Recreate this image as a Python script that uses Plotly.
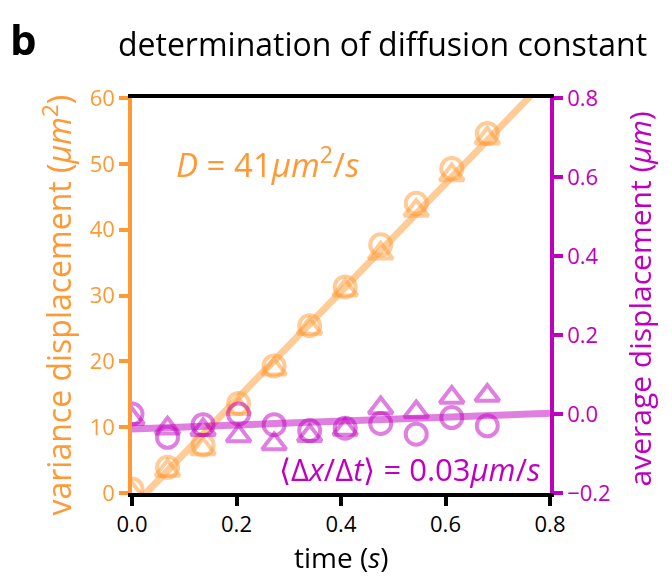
import plotly.graph_objects as go

ORANGE = "#FF9933"
PURPLE = "#C000C0"

time_s = [0.0, 0.068, 0.136, 0.204, 0.272, 0.34, 0.408, 0.476, 0.544, 0.612, 0.68]
var_circle = [0.6, 3.9, 7.3, 13.6, 19.3, 25.4, 31.3, 37.7, 44.0, 49.3, 54.6]
var_triangle = [0.0, 3.4, 6.7, 12.8, 18.8, 25.0, 30.8, 36.4, 42.9, 48.3, 53.9]
avg_circle = [0.0, -0.059, -0.027, 0.0, -0.027, -0.042, -0.036, -0.024, -0.051, -0.009, -0.030]
avg_triangle = [-0.012, -0.036, -0.040, -0.056, -0.076, -0.055, -0.039, 0.015, 0.005, 0.042, 0.047]

fit_t = [0.0, 0.8]
var_fit = [-2.2, 63.4]
avg_fit = [-0.038, 0.002]

x_ticks = [0.0, 0.2, 0.4, 0.6, 0.8]
y_ticks = [0, 10, 20, 30, 40, 50, 60]
y2_ticks = [-0.2, 0.0, 0.2, 0.4, 0.6, 0.8]

FONT = "Open Sans"
TICK = 22
PW, PH = 418.0, 395.0  # plot area size in px

fig = go.Figure()
fig.add_trace(go.Scatter(x=time_s, y=var_circle, mode="markers", opacity=0.5,
                         marker=dict(symbol="circle-open", size=21, color=ORANGE, line=dict(width=4, color=ORANGE)),
                         showlegend=False))
fig.add_trace(go.Scatter(x=time_s, y=var_triangle, mode="markers", opacity=0.5,
                         marker=dict(symbol="triangle-up-open", size=21, color=ORANGE, line=dict(width=4, color=ORANGE)),
                         showlegend=False))
fig.add_trace(go.Scatter(x=fit_t, y=var_fit, mode="lines", opacity=0.5,
                         line=dict(color=ORANGE, width=7), showlegend=False))
fig.add_trace(go.Scatter(x=time_s, y=avg_circle, mode="markers", opacity=0.5, yaxis="y2",
                         marker=dict(symbol="circle-open", size=21, color=PURPLE, line=dict(width=4, color=PURPLE)),
                         showlegend=False))
fig.add_trace(go.Scatter(x=time_s, y=avg_triangle, mode="markers", opacity=0.5, yaxis="y2",
                         marker=dict(symbol="triangle-up-open", size=21, color=PURPLE, line=dict(width=4, color=PURPLE)),
                         showlegend=False))
fig.add_trace(go.Scatter(x=fit_t, y=avg_fit, mode="lines", opacity=0.5, yaxis="y2",
                         line=dict(color=PURPLE, width=7), showlegend=False))

# the page body has an 8px margin, so the figure is drawn 8px right and down
fig.update_layout(
    width=672, height=577,
    margin=dict(l=124, r=130, t=90, b=92),
    plot_bgcolor="white", paper_bgcolor="white",
    font=dict(family=FONT),
    title=dict(text="determination of diffusion constant", x=(115 + 650) / 2 / 672 - 8 / 672, xref="container",
               xanchor="center", y=1 - 37 / 577, yref="container", yanchor="middle", automargin=False,
               font=dict(size=32, color="black", family=FONT)),
    xaxis=dict(range=[0, 0.8], tickvals=x_ticks, tickformat=".1f", automargin=False,
               showline=True, linecolor="black", linewidth=3.5, mirror=True,
               ticks="outside", ticklen=9, tickwidth=3.5, tickcolor="black",
               showgrid=False, zeroline=False,
               tickfont=dict(size=TICK, color="black")),
    yaxis=dict(range=[0, 60], tickvals=y_ticks, automargin=False,
               showline=True, linecolor=ORANGE, linewidth=3.5,
               ticks="outside", ticklen=9, tickwidth=3.5, tickcolor=ORANGE,
               showgrid=False, zeroline=False,
               tickfont=dict(size=TICK, color=ORANGE)),
    yaxis2=dict(range=[-0.2, 0.8], tickvals=y2_ticks, tickformat=".1f", automargin=False,
                overlaying="y", side="right",
                showline=True, linecolor=PURPLE, linewidth=3.5,
                ticks="outside", ticklen=9, tickwidth=3.5, tickcolor=PURPLE,
                showgrid=False, zeroline=False,
                tickfont=dict(size=TICK, color=PURPLE)),
    annotations=[
        dict(text="<b>b</b>", xref="paper", yref="paper", x=-124 / PW, y=1 + 90 / PH,
             xanchor="left", yanchor="top", showarrow=False,
             font=dict(size=42, color="black", family=FONT)),
        dict(text="time (<i>s</i>)", xref="paper", yref="paper", x=0.5, y=-64 / PH,
             xanchor="center", yanchor="middle", showarrow=False,
             font=dict(size=28, color="black", family=FONT)),
        dict(text="variance displacement (<i>μm</i><sup>2</sup>)", xref="paper", yref="paper",
             x=-76 / PW, y=0.5 - 10 / PH, xanchor="center", yanchor="middle", textangle=-90, showarrow=False,
             font=dict(size=32, color=ORANGE, family=FONT)),
        dict(text="average displacement (<i>μm</i>)", xref="paper", yref="paper",
             x=1 + 89 / PW, y=0.5 - 4 / PH, xanchor="center", yanchor="middle", textangle=-90, showarrow=False,
             font=dict(size=30, color=PURPLE, family=FONT)),
        dict(text="<i>D</i> = 41<i>μm</i><sup>2</sup>/<i>s</i>", xref="paper", yref="paper",
             x=42 / PW, y=1 - 64 / PH, xanchor="left", yanchor="middle", showarrow=False,
             font=dict(size=33, color=ORANGE, family=FONT)),
        dict(text="⟨Δ<i>x</i>/Δ<i>t</i>⟩ = 0.03<i>μm</i>/<i>s</i>", xref="paper", yref="paper",
             x=410 / PW, y=24 / PH, xanchor="right", yanchor="middle", showarrow=False,
             font=dict(size=31, color=PURPLE, family=FONT)),
    ],
)

fig.write_html("out.html")
